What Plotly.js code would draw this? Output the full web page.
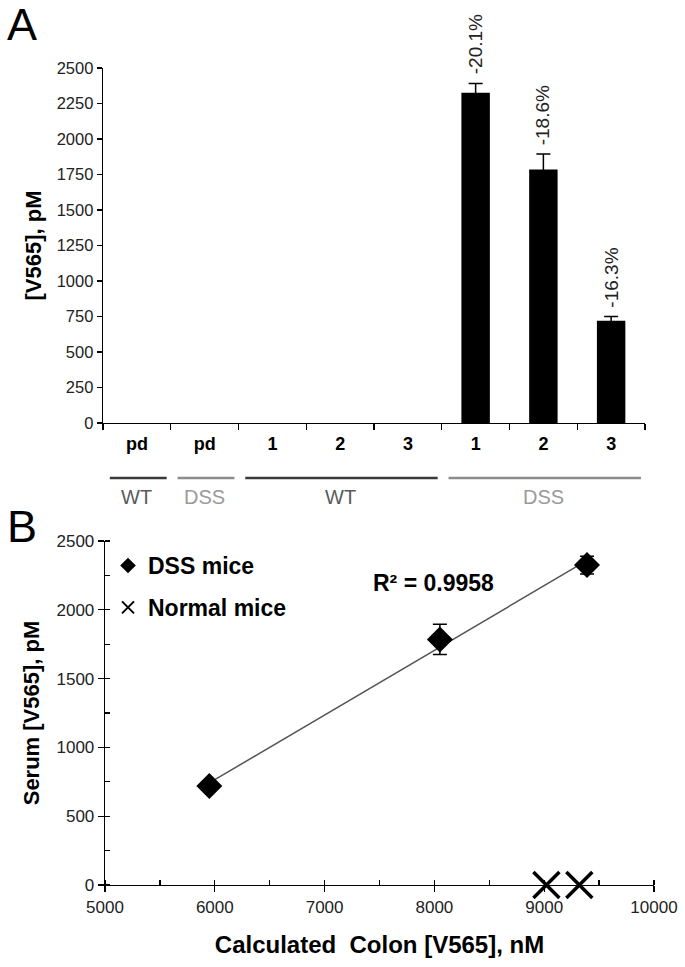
<!DOCTYPE html>
<html>
<head>
<meta charset="utf-8">
<script src="https://cdn.plot.ly/plotly-3.0.1.min.js"></script>
<style>
html,body{margin:0;padding:0;background:#fff;}
#chart{width:685px;height:967px;}
</style>
</head>
<body>
<div id="chart"></div>
<script>
// ---------- Data ----------
const categoryIds = ['WT pd', 'DSS pd', 'WT 1', 'WT 2', 'WT 3', 'DSS 1', 'DSS 2', 'DSS 3'];
const categoryLabels = ['pd', 'pd', '1', '2', '3', '1', '2', '3'];
const barValues = [0, 0, 0, 0, 0, 2325, 1785, 720];
const barErrors = [0, 0, 0, 0, 0, 65, 110, 30];
const percentLabels = ['', '', '', '', '', '-20.1%', '-18.6%', '-16.3%'];

const groupLabels = ['WT', 'DSS', 'WT', 'DSS'];
const groupFirst = [0, 1, 2, 5];
const groupLast = [0, 1, 4, 7];

const dssColon = [9390, 8050, 5950];
const dssSerum = [2325, 1785, 720];
const dssSerumErr = [65, 110, 30];
const normalColon = [9020, 9320];
const normalSerum = [0, 0];
const rSquaredLabel = 'R\u00B2 = 0.9958';

// ---------- Helpers ----------
const W = 685, H = 967;
const px = v => v / W;
const py = v => 1 - v / H;
const FONT = 'Arial, "Liberation Sans", sans-serif';
const wtLine = '#3a3a3a', wtText = '#5a5a5a';
const dssLine = '#8c8c8c', dssText = '#9a9a9a';

// linear regression for trendline
const n = dssColon.length;
const mx = dssColon.reduce((a, b) => a + b, 0) / n;
const my = dssSerum.reduce((a, b) => a + b, 0) / n;
let sxy = 0, sxx = 0;
for (let i = 0; i < n; i++) { sxy += (dssColon[i] - mx) * (dssSerum[i] - my); sxx += (dssColon[i] - mx) ** 2; }
const slope = sxy / sxx, icpt = my - slope * mx;
const tx = [Math.min(...dssColon), Math.max(...dssColon)];
const ty = tx.map(x => slope * x + icpt);

// ---------- Traces ----------
const traces = [
  {
    type: 'bar', x: categoryIds, y: barValues, xaxis: 'x', yaxis: 'y',
    marker: {color: '#000'}, width: 0.42, showlegend: false,
    error_y: {type: 'data', array: barErrors.map(e => (e > 0 ? e : NaN)), symmetric: true,
      color: '#000', thickness: 1.5, width: 7}
  },
  {
    type: 'scatter', mode: 'lines', x: tx, y: ty, xaxis: 'x2', yaxis: 'y2',
    line: {color: '#555', width: 1.5}, showlegend: false, hoverinfo: 'skip'
  },
  {
    type: 'scatter', mode: 'markers', name: 'DSS mice', x: dssColon, y: dssSerum, xaxis: 'x2', yaxis: 'y2',
    legendgroup: 'a',
    marker: {symbol: 'diamond', size: 20, color: '#000'},
    error_y: {type: 'data', array: dssSerumErr, color: '#000', thickness: 1.5, width: 7}
  },
  {
    type: 'scatter', mode: 'markers', name: 'Normal mice', x: normalColon, y: normalSerum, xaxis: 'x2', yaxis: 'y2',
    legendgroup: 'b', cliponaxis: false,
    marker: {symbol: 'x-thin', size: 26, color: '#000', line: {color: '#000', width: 3.5}}
  }
];

// ---------- Annotations & shapes ----------
const annotations = [
  {text: 'A', xref: 'paper', yref: 'paper', x: px(5), y: py(-3), xanchor: 'left', yanchor: 'top', showarrow: false,
   font: {family: FONT, size: 45, color: '#000'}},
  {text: 'B', xref: 'paper', yref: 'paper', x: px(5), y: py(499), xanchor: 'left', yanchor: 'top', showarrow: false,
   font: {family: FONT, size: 45, color: '#000'}},
  {text: rSquaredLabel, xref: 'x2', yref: 'y2', x: 7990, y: 2195, showarrow: false,
   font: {family: FONT, size: 23, color: '#000', weight: 700}}
];
percentLabels.forEach((t, i) => {
  if (!t) return;
  annotations.push({text: t, xref: 'x', yref: 'y', x: categoryIds[i], y: barValues[i] + barErrors[i],
    yanchor: 'bottom', yshift: 7, textangle: -90, showarrow: false,
    font: {family: FONT, size: 19, color: '#222'}});
});
const shapes = [];
groupLabels.forEach((g, i) => {
  const isWT = g === 'WT';
  shapes.push({type: 'line', xref: 'x', yref: 'paper', x0: groupFirst[i] - 0.4, x1: groupLast[i] + 0.44,
    y0: py(478), y1: py(478), line: {color: isWT ? wtLine : dssLine, width: 2.5}});
  annotations.push({text: g, xref: 'x', yref: 'paper', x: (groupFirst[i] + groupLast[i]) / 2, y: py(497),
    yanchor: 'middle', showarrow: false, font: {family: FONT, size: 20, color: isWT ? wtText : dssText}});
});

// ---------- Layout ----------
const layout = {
  width: W, height: H,
  margin: {l: 0, r: 0, t: 0, b: 0},
  paper_bgcolor: '#fff', plot_bgcolor: '#fff',
  font: {family: FONT, color: '#000'},
  showlegend: true,
  legend: {x: px(108), y: py(544), xanchor: 'left', yanchor: 'top', bgcolor: 'rgba(0,0,0,0)',
    font: {family: FONT, size: 23, weight: 700, color: '#000'}, itemsizing: 'constant',
    traceorder: 'grouped', tracegroupgap: 9},
  bargap: 0.5,
  xaxis: {
    domain: [px(103), px(645)], anchor: 'y', type: 'category',
    tickvals: categoryIds, ticktext: categoryLabels, tickson: 'boundaries',
    ticks: 'outside', ticklen: 6, tickcolor: '#000', tickwidth: 1.3, ticklabelstandoff: 4,
    showline: true, linecolor: '#000', linewidth: 1.3, showgrid: false, zeroline: false,
    tickfont: {family: FONT, size: 18, weight: 700, color: '#000'}, fixedrange: true
  },
  yaxis: {
    domain: [py(423), py(68)], anchor: 'x', range: [0, 2500], dtick: 250, tick0: 0,
    ticks: 'outside', ticklen: 5, tickcolor: '#000', tickwidth: 1.3,
    showline: true, linecolor: '#000', linewidth: 1.3, showgrid: false, zeroline: false,
    tickfont: {family: FONT, size: 16.5, color: '#222'},
    title: {text: '[V565], pM', standoff: 9, font: {family: FONT, size: 22, weight: 700, color: '#000'}}
  },
  xaxis2: {
    domain: [px(105), px(654)], anchor: 'y2', range: [5000, 10000], dtick: 1000, tick0: 5000,
    tickformat: 'd',
    ticks: 'outside', ticklen: 6, tickcolor: '#000', tickwidth: 1.3,
    minor: {dtick: 500, ticks: 'inside', ticklen: 5, tickcolor: '#000', tickwidth: 1.3},
    showline: true, linecolor: '#000', linewidth: 1.3, showgrid: false, zeroline: false,
    tickfont: {family: FONT, size: 17, color: '#222'},
    title: {text: 'Calculated  Colon [V565], nM', standoff: 20, font: {family: FONT, size: 24, weight: 700, color: '#000'}}
  },
  yaxis2: {
    domain: [py(885), py(541)], anchor: 'x2', range: [0, 2500], dtick: 500, tick0: 0,
    tickformat: 'd',
    ticks: 'outside', ticklen: 6, tickcolor: '#000', tickwidth: 1.3,
    minor: {dtick: 250, ticks: 'inside', ticklen: 5, tickcolor: '#000', tickwidth: 1.3},
    showline: true, linecolor: '#000', linewidth: 1.3, showgrid: false, zeroline: false,
    tickfont: {family: FONT, size: 17, color: '#222'},
    title: {text: 'Serum [V565], pM', standoff: 10, font: {family: FONT, size: 22, weight: 700, color: '#000'}}
  },
  annotations: annotations,
  shapes: shapes
};

Plotly.newPlot('chart', traces, layout, {displayModeBar: false, staticPlot: true});
</script>
</body>
</html>
